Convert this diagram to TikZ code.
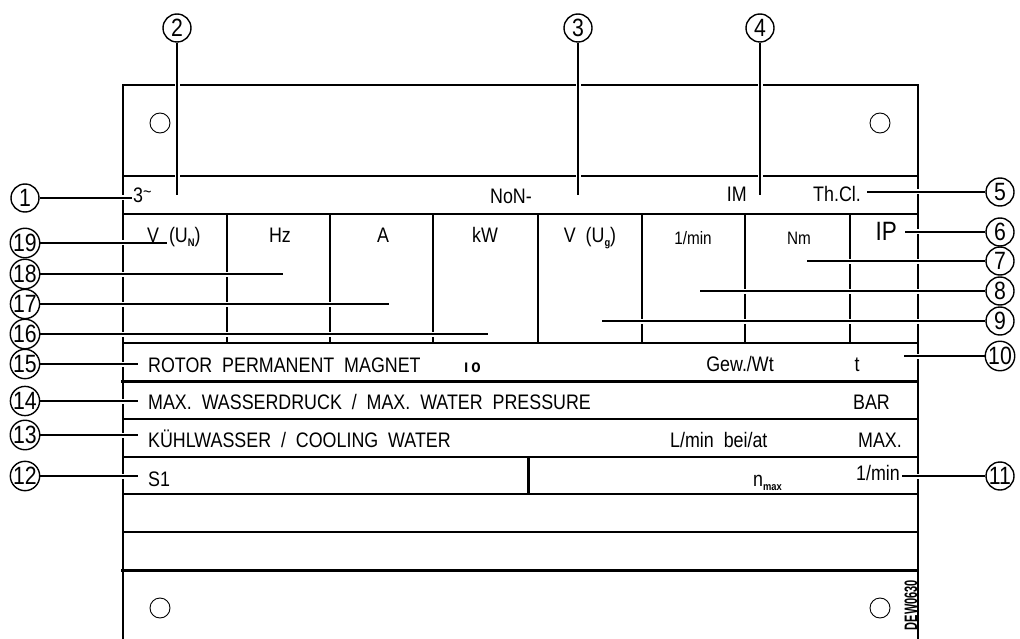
\documentclass[tikz,border=0pt]{standalone}
\usepackage{fontspec}
\setmainfont{Liberation Sans}[FakeStretch=0.85,WordSpace=2]
\pgfdeclarelayer{bg}
\pgfsetlayers{bg,main}
\newcommand{\pfA}{\fontsize{21}{21}\selectfont}
\newcommand{\pfS}{\fontsize{18}{18}\selectfont}
\newcommand{\pfL}{\fontsize{26.5}{26.5}\selectfont}
\newcommand{\pfN}{\fontsize{25}{25}\selectfont}
\newcommand{\psub}[1]{\raisebox{-4pt}{\fontsize{11}{11}\selectfont\bfseries #1}}
\tikzset{
  plate/.style={line width=1.4pt},
  rowline/.style={line width=1.2pt},
  heavy/.style={line width=3pt},
  leader/.style={line width=1.6pt, preaction={draw=white, line width=5pt}},
  num/.style={circle, draw, fill=white, line width=1.4pt, minimum size=28pt, inner sep=0pt, font=\pfN},
  txt/.style={inner sep=0pt, font=\pfA, text height=15pt, text depth=0pt},
  txts/.style={inner sep=0pt, font=\pfS, text height=13pt, text depth=0pt},
  txtl/.style={inner sep=0pt, font=\pfL, text height=19pt, text depth=0pt},
  hole/.style={line width=0.9pt}
}
\begin{document}
\begin{tikzpicture}[x=1pt,y=-1pt]
\useasboundingbox (0,0) rectangle (1020,639);

% number circles
\node[num] (n1) at (25,198) {1};
\node[num] (n2) at (177,28) {2};
\node[num] (n3) at (578,28) {3};
\node[num] (n4) at (760,28) {4};
\node[num] (n5) at (1000,192) {5};
\node[num] (n6) at (1000,232) {6};
\node[num] (n7) at (1000,261) {7};
\node[num] (n8) at (1000,291) {8};
\node[num] (n9) at (1000,321) {9};
\node[num] (n10) at (1000,356) {10};
\node[num] (n11) at (1000,476) {11};
\node[num] (n12) at (25,476) {12};
\node[num] (n13) at (25,435) {13};
\node[num] (n14) at (25,401) {14};
\node[num] (n15) at (25,364) {15};
\node[num] (n16) at (25,334) {16};
\node[num] (n17) at (25,304) {17};
\node[num] (n18) at (25,274) {18};
\node[num] (n19) at (25,243) {19};

% leader free ends
\coordinate (e1) at (132,198);
\coordinate (e2) at (177,195);
\coordinate (e3) at (578,195);
\coordinate (e4) at (760,195);
\coordinate (e5) at (867,192);
\coordinate (e6) at (905,232);
\coordinate (e7) at (807,261);
\coordinate (e8) at (700,291);
\coordinate (e9) at (602,321);
\coordinate (e10) at (904,356);
\coordinate (e11) at (902,476);
\coordinate (e12) at (138,476);
\coordinate (e13) at (138,435);
\coordinate (e14) at (138,401);
\coordinate (e15) at (138,364);
\coordinate (e16) at (488,334);
\coordinate (e17) at (389,304);
\coordinate (e18) at (283,274);
\coordinate (e19) at (167,243);

% texts
\node[txt, anchor=west] (t3) at (133,195) {3\raisebox{5pt}{\fontsize{17}{17}\selectfont\textasciitilde}};
\node[txt] (tnon) at (511,196) {NoN-};
\node[txt, anchor=east] (tim) at (747,194) {IM};
\node[txt, anchor=west] (tth) at (813,194) {Th.Cl.};
\node[txt, anchor=west] (tv) at (147,235) {V\ (U\psub{N})};
\node[txt] (thz) at (280,235) {Hz};
\node[txt] (ta) at (383,235) {A};
\node[txt] (tkw) at (485,235) {kW};
\node[txt] (tvg) at (590,235) {V\ (U\psub{g})};
\node[txts] (tmin) at (693,237.5) {1/min};
\node[txts] (tnm) at (799,237.5) {Nm};
\node[txtl, anchor=east] (tip) at (897,231) {IP};
\node[txt, anchor=west] (trot) at (148,364.5) {ROTOR PERMANENT MAGNET};
\node[txts, anchor=west, font=\pfS\bfseries, text height=9pt] (tio) at (464,368) {\i\kern3pt o};
\node[txt] (tgew) at (740,363.5) {Gew./Wt};
\node[txt] (tt) at (857,363.5) {t};
\node[txt, anchor=west] (tmax) at (148,402) {MAX. WASSERDRUCK / MAX. WATER PRESSURE};
\node[txt, anchor=east] (tbar) at (890,402) {BAR};
\node[txt, anchor=west] (tkw2) at (148,440) {KÜHLWASSER / COOLING WATER};
\node[txt, anchor=west] (tlmin) at (670,440) {L/min bei/at};
\node[txt, anchor=east] (tmax2) at (902,440) {MAX.};
\node[txt, anchor=west] (ts1) at (148,479) {S1};
\node[inner sep=0pt, font=\pfA, anchor=base west] (tn) at (753,486) {n\psub{max}};
\node[txt, anchor=east] (trpm) at (900,472.5) {1/min};
\node[inner sep=0pt, rotate=90, font=\fontsize{18}{18}\selectfont\bfseries] (tdew) at (911,605) {\scalebox{0.72}[1]{DEW0630}};

\begin{pgfonlayer}{bg}
% plate
\draw[plate] (123,639) -- (123,85) -- (918,85) -- (918,639);
\foreach \yy in {176,214,343,419,457,494,532}
  \draw[rowline] (123,\yy) -- (918,\yy);
\draw[heavy] (121,381) -- (918,381);
\draw[heavy] (121,570) -- (918,570);
\foreach \xx in {227,330,433,538,642,745,850}
  \draw[rowline] (\xx,214) -- (\xx,343);
\draw[heavy] (528,457) -- (528,494);
% holes
\draw[hole] (160,123) circle (10);
\draw[hole] (880,123) circle (10);
\draw[hole] (160,608) circle (10);
\draw[hole] (880,608) circle (10);
% leaders
\foreach \i in {1,...,19}
  \draw[leader] (n\i) -- (e\i);
\end{pgfonlayer}
\end{tikzpicture}
\end{document}
